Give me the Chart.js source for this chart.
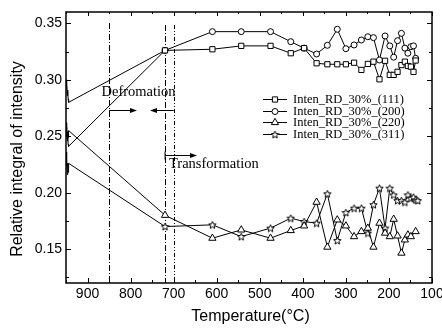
<!DOCTYPE html>
<html>
<head>
<meta charset="utf-8">
<script src="https://cdn.jsdelivr.net/npm/chart.js@4/dist/chart.umd.min.js"></script>
<style>
	html, body { margin: 0; padding: 0; background: #fff; }
</style>
</head>
<body>
<canvas id="myChart" width="442" height="329"></canvas>
<script>
// temperatures (C), shared by the four series (the first few are the noisy start at 950)
const temps = [950, 949, 948, 947, 946, 945, 944,
	720, 610, 543, 475, 428, 397, 368, 343, 320, 300, 281, 264, 249, 236,
	222, 209, 198, 189, 180, 171, 163, 156, 149, 143, 138, 133];

const seriesNames = ["Inten_RD_30%_(111)", "Inten_RD_30%_(200)", "Inten_RD_30%_(220)", "Inten_RD_30%_(311)"];

const inten111 = [0.262, 0.250, 0.256, 0.246, 0.251, 0.243, 0.241,
	0.326, 0.327, 0.330, 0.330, 0.3235, 0.328, 0.3146, 0.3137, 0.3137, 0.3137, 0.3151, 0.3087, 0.314, 0.316,
	0.3004, 0.3168, 0.3043, 0.3043, 0.307, 0.313, 0.316, 0.3122, 0.3116, 0.307, 0.317, null];
const inten200 = [0.300, 0.292, 0.297, 0.286, 0.291, 0.283, 0.280,
	0.326, 0.3426, 0.3426, 0.3426, 0.3337, 0.328, 0.3228, 0.3305, 0.3447, 0.3275, 0.3308, 0.3352, 0.3381, 0.3373,
	0.3175, 0.3388, 0.330, 0.320, 0.3346, 0.3411, 0.328, 0.3235, 0.3293, 0.330, 0.319, null];
const inten220 = [0.258, 0.250, 0.256, 0.248, 0.254, 0.249, 0.255,
	0.180, 0.1597, 0.167, 0.1597, 0.1665, 0.1706, 0.1916, 0.1518, 0.1759, 0.1706, 0.1611, 0.1656, 0.1686, 0.1518,
	0.173, 0.1642, 0.1611, 0.1765, 0.1617, 0.1465, 0.1582, 0.1626, 0.1611, null, 0.1656, null];
const inten311 = [0.236, 0.224, 0.230, 0.216, 0.226, 0.218, 0.226,
	0.170, 0.1715, 0.1611, 0.1686, 0.1774, 0.1744, 0.173, 0.199, 0.1576, 0.1824, 0.1863, 0.1863, 0.1642, 0.1894,
	0.204, 0.1686, 0.204, 0.198, 0.193, 0.193, 0.1916, 0.198, 0.195, 0.196, 0.1936, 0.193];

const xTicks = [100, 200, 300, 400, 500, 600, 700, 800, 900];
const yTicks = [0.15, 0.20, 0.25, 0.30, 0.35];

// dash-dot marker lines
const markLines = [850, 720, 700];

// five point star marker, drawn once on a small canvas
function makeStar() {
	const c = document.createElement("canvas");
	c.width = 9;
	c.height = 9;
	const g = c.getContext("2d");
	g.beginPath();
	for (let i = 0; i < 10; i++) {
		const r = i % 2 === 0 ? 3.9 : 1.7;
		const a = -Math.PI / 2 + i * Math.PI / 5;
		const px = 4.5 + r * Math.cos(a);
		const py = 4.9 + r * Math.sin(a);
		if (i === 0) g.moveTo(px, py);
		else g.lineTo(px, py);
	}
	g.closePath();
	g.fillStyle = "#fff";
	g.fill();
	g.strokeStyle = "#000";
	g.lineWidth = 1;
	g.stroke();
	return c;
}
const star = makeStar();

const styles = ["rect", "circle", "triangle", star];
const radii = [3.7, 3, 4.2, 4];
const values = [inten111, inten200, inten220, inten311];

const datasets = [];
for (let s = 0; s < values.length; s++) {
	const pts = [];
	for (let i = 0; i < temps.length; i++) {
		if (values[s][i] !== null) pts.push({ x: temps[i], y: values[s][i] });
	}
	datasets.push({
		label: seriesNames[s],
		data: pts,
		showLine: true,
		borderColor: "#000",
		borderWidth: 1,
		backgroundColor: "#fff",
		pointStyle: styles[s],
		pointBackgroundColor: "#fff",
		pointBorderColor: "#000",
		pointBorderWidth: 1,
		pointRadius: (ctx) => (ctx.raw && ctx.raw.x > 730 ? 0 : radii[s]),
		pointHoverRadius: 0,
		tension: 0,
	});
}

const SANS = '"Liberation Sans", Arial, sans-serif';
const SERIF = '"Liberation Serif", "Times New Roman", serif';

function arrow(ctx, x0, x1, y) {
	const dir = x1 > x0 ? 1 : -1;
	ctx.beginPath();
	ctx.moveTo(x0, y);
	ctx.lineTo(x1 - dir * 5, y);
	ctx.stroke();
	ctx.beginPath();
	ctx.moveTo(x1, y);
	ctx.lineTo(x1 - dir * 7, y - 2.5);
	ctx.lineTo(x1 - dir * 7, y + 2.5);
	ctx.closePath();
	ctx.fill();
}

const decor = {
	id: "decor",
	beforeDatasetsDraw(chart) {
		const ctx = chart.ctx;
		const xs = chart.scales.x;
		const bottom = chart.chartArea.bottom;
		const dashes = [[6, 2, 1, 2], [6, 2, 1, 2], [4, 2, 1, 2, 1, 2]];
		const tops = [23, 25, 25];
		ctx.save();
		ctx.strokeStyle = "#000";
		ctx.lineWidth = 1;
		markLines.forEach((t, i) => {
			const x = Math.round(xs.getPixelForValue(t)) + 0.5;
			ctx.setLineDash(dashes[i]);
			ctx.beginPath();
			ctx.moveTo(x, tops[i]);
			ctx.lineTo(x, bottom);
			ctx.stroke();
		});
		ctx.restore();
	},
	afterDatasetsDraw(chart) {
		const ctx = chart.ctx;
		const a = chart.chartArea;
		const xs = chart.scales.x;
		const ys = chart.scales.y;
		ctx.save();
		ctx.strokeStyle = "#000";
		ctx.fillStyle = "#000";

		// frame
		ctx.lineWidth = 1.5;
		ctx.strokeRect(a.left, a.top, a.right - a.left, a.bottom - a.top);

		// inward ticks on all four sides
		ctx.lineWidth = 1;
		for (let t = 100; t <= 950; t += 50) {
			const x = Math.round(xs.getPixelForValue(t)) + 0.5;
			const len = t % 100 === 0 ? 5 : 3;
			ctx.beginPath();
			ctx.moveTo(x, a.bottom);
			ctx.lineTo(x, a.bottom - len);
			ctx.moveTo(x, a.top);
			ctx.lineTo(x, a.top + len - 1);
			ctx.stroke();
		}
		for (let v = 0.125; v < 0.36; v += 0.025) {
			const y = Math.round(ys.getPixelForValue(v)) + 0.5;
			const major = Math.abs(v * 20 - Math.round(v * 20)) < 1e-6;
			const len = major ? 5 : 3;
			ctx.beginPath();
			ctx.moveTo(a.left, y);
			ctx.lineTo(a.left + len, y);
			ctx.moveTo(a.right, y);
			ctx.lineTo(a.right - len, y);
			ctx.stroke();
		}

		// axis titles
		ctx.font = "16px " + SANS;
		ctx.textAlign = "center";
		ctx.textBaseline = "middle";
		ctx.fillText("Temperature(\u00B0C)", 250.5, 317);
		ctx.save();
		ctx.translate(18, 159);
		ctx.rotate(-Math.PI / 2);
		ctx.fillText("Relative integral of intensity", 0, 0);
		ctx.restore();

		// annotations
		ctx.font = "14.5px " + SERIF;
		ctx.textAlign = "left";
		ctx.textBaseline = "alphabetic";
		ctx.fillText("Defromation", 101.5, 96);
		ctx.fillText("Transformation", 169, 168);
		const x850 = xs.getPixelForValue(markLines[0]);
		const x720 = xs.getPixelForValue(markLines[1]);
		const x700 = xs.getPixelForValue(markLines[2]);
		arrow(ctx, x850, 137, 110.5);
		arrow(ctx, x700, 150, 110.5);
		arrow(ctx, x720, 197, 155.5);
		ctx.beginPath();
		ctx.moveTo(x720, 151.5);
		ctx.lineTo(x720, 159.5);
		ctx.stroke();

		// legend
		ctx.font = "12.5px " + SERIF;
		ctx.textBaseline = "middle";
		for (let s = 0; s < seriesNames.length; s++) {
			const y = Math.round(99 + s * 11.7) + 0.5;
			ctx.strokeStyle = "#000";
			ctx.lineWidth = 1;
			ctx.beginPath();
			ctx.moveTo(263, y);
			ctx.lineTo(287, y);
			ctx.stroke();
			ctx.fillStyle = "#fff";
			Chart.helpers.drawPoint(ctx, { pointStyle: styles[s], radius: radii[s], rotation: 0, borderWidth: 1 }, 275, y);
			ctx.fillStyle = "#000";
			ctx.fillText(seriesNames[s], 293, y + 0.5);
		}
		ctx.restore();
	},
};

const ctx = document.getElementById("myChart").getContext("2d");
const myChart = new Chart(ctx, {
	type: "scatter",
	data: { datasets: datasets },
	options: {
		responsive: false,
		animation: false,
		layout: { padding: { top: 12, right: 10, bottom: 0, left: 0 } },
		plugins: {
			legend: { display: false },
			tooltip: { enabled: false },
		},
		scales: {
			x: {
				type: "linear",
				reverse: true,
				min: 100,
				max: 950,
				grid: { display: false, drawTicks: false },
				border: { display: false },
				ticks: {
					color: "#000",
					font: { family: SANS, size: 14 },
					padding: 3,
					maxRotation: 0,
					autoSkip: false,
				},
				afterBuildTicks: (s) => {
					s.ticks = xTicks.map((v) => ({ value: v }));
				},
				afterFit: (s) => {
					s.height = 46;
					s.paddingLeft = 0;
					s.paddingRight = 0;
				},
			},
			y: {
				type: "linear",
				min: 0.12,
				max: 0.36,
				grid: { display: false, drawTicks: false },
				border: { display: false },
				ticks: {
					color: "#000",
					font: { family: SANS, size: 14 },
					padding: 4,
					callback: (v) => v.toFixed(2),
				},
				afterBuildTicks: (s) => {
					s.ticks = yTicks.map((v) => ({ value: v }));
				},
				afterFit: (s) => {
					s.width = 66;
					s.paddingTop = 0;
					s.paddingBottom = 0;
				},
			},
		},
	},
	plugins: [decor],
});
</script>
</body>
</html>
